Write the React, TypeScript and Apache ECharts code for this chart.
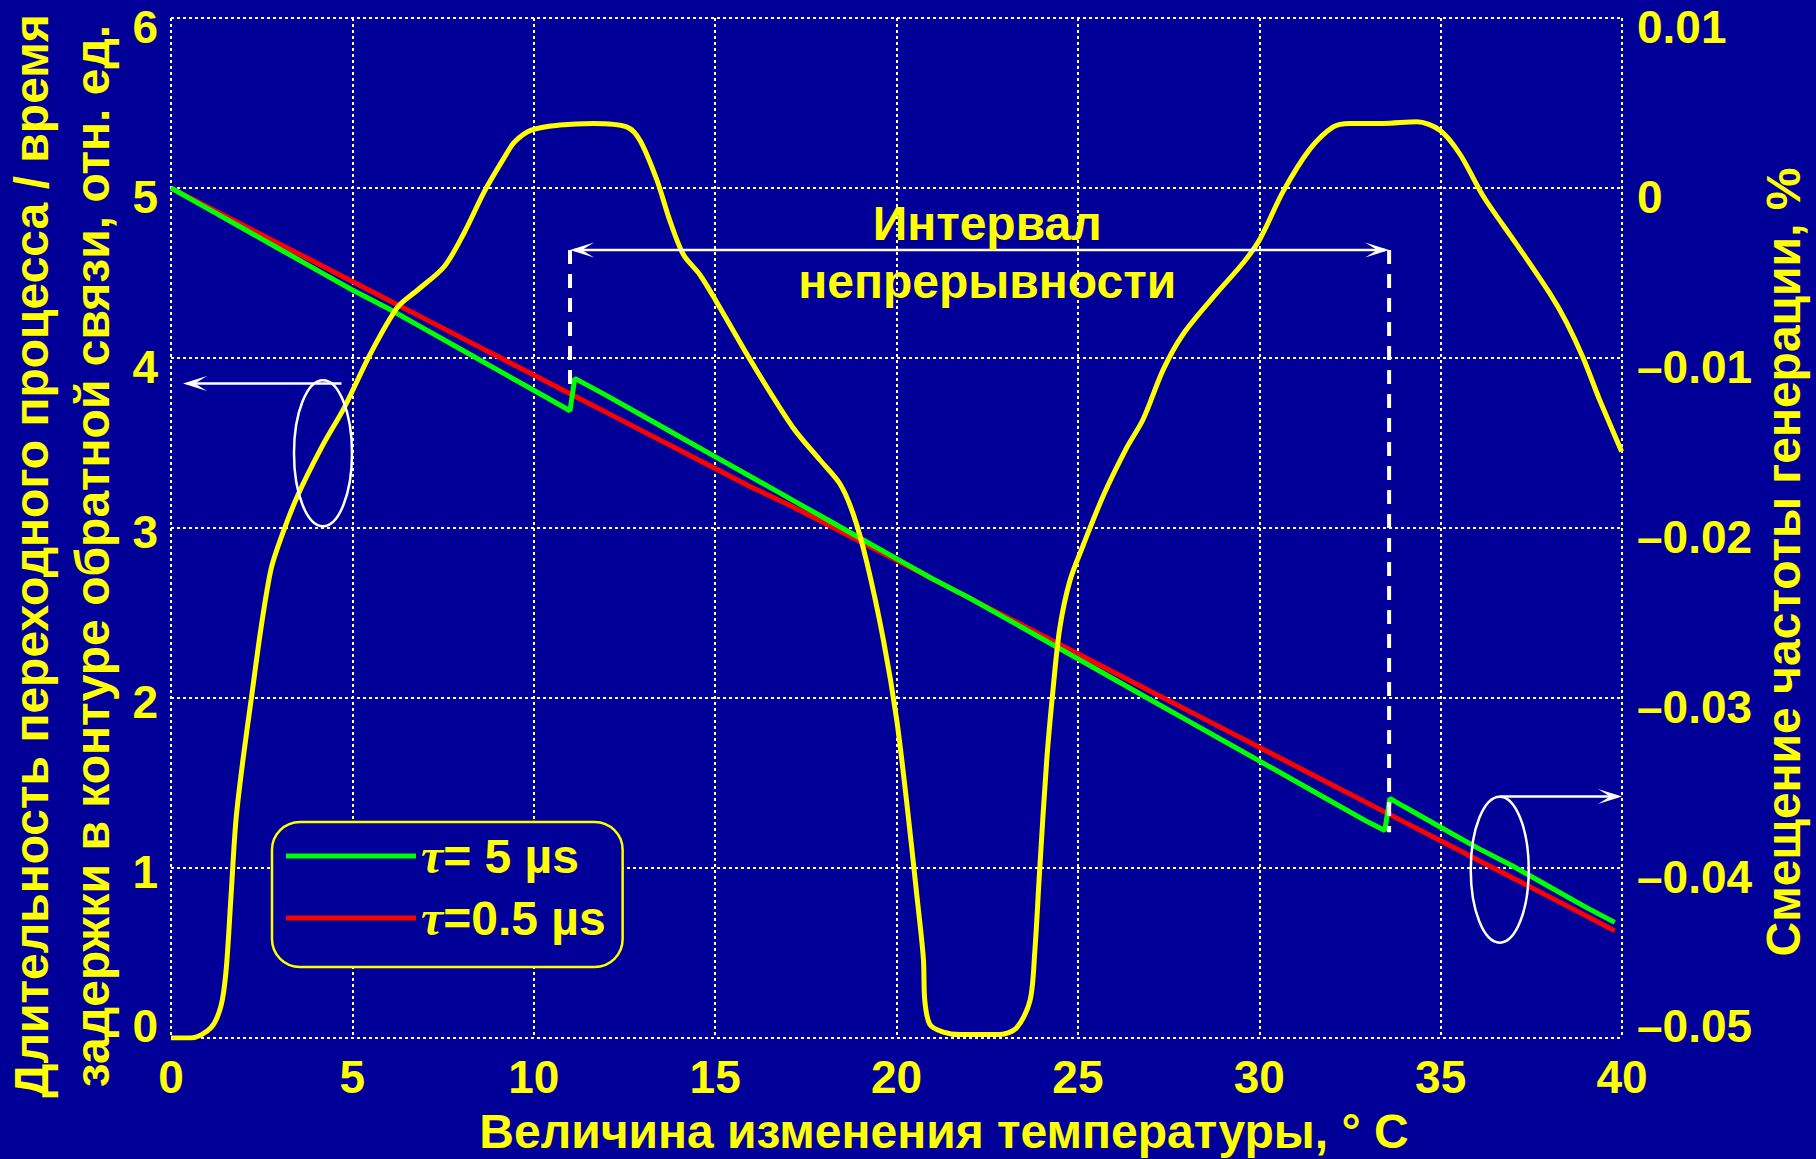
import React, { useEffect, useRef } from 'react';
import * as echarts from 'echarts';

const W = 1816;
const H = 1159;
const BG = '#000099';
const YELLOW = '#FFFF00';
const WHITE = '#FFFFFF';
const SANS = '"Liberation Sans", Arial, Helvetica, sans-serif';
const SERIF = '"Liberation Serif", "Times New Roman", serif';

// Transient duration / loop delay, tau = 0.5 us
const redTemp = [
  0, 1, 2, 3, 4, 5, 6, 7, 8, 9,
  10, 11, 12, 13, 14, 15, 16, 17, 18, 19,
  20, 21, 22, 23, 24, 25, 26, 27, 28, 29,
  30, 31, 32, 33, 34, 35, 36, 37, 38, 39, 39.8,
];
const redDuration = [
  5.0, 4.89, 4.78, 4.67, 4.56, 4.45, 4.34, 4.23, 4.12, 4.01,
  3.9, 3.79, 3.68, 3.57, 3.46, 3.35, 3.24, 3.14, 3.03, 2.92,
  2.81, 2.7, 2.59, 2.48, 2.37, 2.26, 2.15, 2.04, 1.93, 1.82,
  1.71, 1.6, 1.49, 1.38, 1.27, 1.16, 1.05, 0.94, 0.83, 0.72, 0.63,
];

// Transient duration / loop delay, tau = 5 us (with two jumps)
const greenTemp = [
  0, 1, 2, 3, 4, 5, 6, 7, 8, 9,
  10, 11, 11.13, 12, 13, 14, 15, 16, 17, 18,
  19, 20, 21, 22, 23, 24, 25, 26, 27, 28,
  29, 30, 31, 32, 33, 33.46, 33.6, 34, 35, 36,
  37, 38, 39, 39.8,
];
const greenDuration = [
  5.0, 4.88, 4.76, 4.64, 4.52, 4.4, 4.29, 4.17, 4.05, 3.93,
  3.81, 3.69, 3.88, 3.78, 3.66, 3.54, 3.42, 3.3, 3.18, 3.06,
  2.94, 2.82, 2.7, 2.59, 2.47, 2.35, 2.23, 2.11, 1.99, 1.87,
  1.75, 1.63, 1.51, 1.39, 1.27, 1.22, 1.41, 1.36, 1.24, 1.12,
  1.01, 0.89, 0.77, 0.68,
];

// Generation frequency shift, %
const yellowTemp = [
  0, 0.55, 1.1, 1.38, 1.52, 1.65, 1.79, 1.98, 2.21, 2.48,
  2.76, 3.03, 3.49, 4.14, 4.78, 5.51, 6.25, 6.8, 7.54, 8.09,
  8.64, 9.19, 9.47, 9.93, 10.72, 11.64, 12.56, 12.93, 13.39, 13.75,
  14.12, 14.58, 15.04, 16.05, 17.15, 17.89, 18.44, 18.81, 19.18, 19.64,
  20.0, 20.28, 20.55, 20.74, 20.78, 20.92, 21.29, 21.75, 22.39, 22.85,
  23.31, 23.68, 23.81, 23.95, 24.14, 24.32, 24.5, 24.78, 25.15, 25.7,
  26.34, 26.8, 27.35, 27.9, 28.82, 29.56, 30.02, 30.66, 31.4, 32.04,
  32.5, 33.42, 34.34, 34.98, 35.53, 36.18, 37.09, 38.01, 38.47, 38.93,
  39.39, 39.99,
];
const yellowShift = [
  -0.05, -0.05, -0.0494, -0.0481, -0.046, -0.0418, -0.0372, -0.0337, -0.0301, -0.0259,
  -0.0224, -0.0206, -0.0181, -0.0153, -0.0129, -0.0097, -0.007, -0.006, -0.0046, -0.0026,
  -0.0002, 0.0018, 0.0027, 0.0034, 0.0037, 0.0038, 0.0036, 0.0028, 0.0005, -0.0019,
  -0.0039, -0.0051, -0.0067, -0.0104, -0.0141, -0.016, -0.0174, -0.0192, -0.022, -0.0266,
  -0.0312, -0.0361, -0.0414, -0.0453, -0.0478, -0.0492, -0.04965, -0.0498, -0.0498, -0.0498,
  -0.0494, -0.0478, -0.045, -0.04, -0.0337, -0.0294, -0.0259, -0.0231, -0.021, -0.0181,
  -0.0153, -0.0136, -0.0107, -0.0086, -0.0062, -0.0044, -0.003, -0.0002, 0.0023, 0.0036,
  0.0038, 0.0038, 0.0039, 0.0034, 0.002, -0.0005, -0.0033, -0.0062, -0.0079, -0.01,
  -0.0125, -0.0155,
];

const seriesNames = ['τ= 5 µs', 'τ=0.5 µs', 'shift'];

const xTitle = 'Величина изменения температуры, ° C';
const leftTitle = 'Длительность переходного процесса / время\nзадержки в контуре обратной связи, отн. ед.';
const rightTitle = 'Смещение частоты генерации, %';
const intervalTitle = 'Интервал\nнепрерывности';

// Annotation anchors in data units (x: temperature, y: left axis)
const continuityFrom = 11;
const continuityTo = 33.58;
const continuityLevel = 4.635;
const dropEndLeft = 3.79;
const dropEndRight = 1.21;
const intervalLabelAt = [22.5, 4.62];
const leftMarkCenter = [4.19, 3.44];
const leftMarkArrow = [4.7, 0.33, 3.85];
const rightMarkCenter = [36.63, 0.99];
const rightMarkArrow = [36.63, 40, 1.42];

const zip = (xs: number[], ys: number[]) => xs.map((x, i) => [x, ys[i]]);

function arrowHead(tipX: number, tipY: number, dir: number) {
  // dir = -1 points left, +1 points right
  const len = 24;
  const half = 7.5;
  const notch = 12;
  return {
    type: 'polygon',
    shape: {
      points: [
        [tipX, tipY],
        [tipX - dir * len, tipY - half],
        [tipX - dir * notch, tipY],
        [tipX - dir * len, tipY + half],
      ],
    },
    style: { fill: WHITE },
    z: 20,
  };
}

// Tick label tokens: a spacer sets the line box, the number sits at its top or bottom
const TICK_SIZE = 46;
const tickRich = {
  sp: { fontSize: 1, lineHeight: 64 },
  sm: { fontSize: 1, lineHeight: 54 },
  sb: { fontSize: 1, lineHeight: 70 },
  dn: { color: YELLOW, fontFamily: SANS, fontWeight: 'bold', fontSize: TICK_SIZE, lineHeight: TICK_SIZE, verticalAlign: 'bottom' },
  up: { color: YELLOW, fontFamily: SANS, fontWeight: 'bold', fontSize: TICK_SIZE, lineHeight: TICK_SIZE, verticalAlign: 'top' },
};

function leftTick(v: number) {
  const s = String(Math.round(v));
  if (v < 0.5) return `{sb| }{up|${s}}`;
  if (v < 3.5) return `{sm| }{dn|${s}}`;
  return `{sp| }{dn|${s}}`;
}

function rightTick(v: number) {
  const r = Math.round(v * 100) / 100;
  const s = r === 0 ? '0' : r < 0 ? '–' + Math.abs(r).toFixed(2) : r.toFixed(2);
  if (r <= -0.045) return `{up|${s}}{sb| }`;
  return `{dn|${s}}{sp| }`;
}

export default function App() {
  const ref = useRef<HTMLDivElement>(null);

  useEffect(() => {
    document.body.style.margin = '0';
    document.body.style.background = BG;
    const chart = echarts.init(ref.current!, null, { renderer: 'svg', width: W, height: H });

    const tickFont = { color: YELLOW, fontFamily: SANS, fontWeight: 'bold', fontSize: TICK_SIZE };
    const dotted = { color: WHITE, width: 2, type: [3, 3] };

    chart.setOption({
      animation: false,
      backgroundColor: BG,
      grid: { left: 171, right: 194, top: 18, bottom: 121, containLabel: false, outerBoundsMode: 'none' },
      xAxis: {
        type: 'value',
        min: 0,
        max: 40,
        interval: 5,
        axisLine: { show: false },
        axisTick: { show: false },
        axisLabel: { ...tickFont, margin: 16 },
        splitLine: { show: true, showMinLine: true, showMaxLine: true, lineStyle: dotted },
      },
      yAxis: [
        {
          type: 'value',
          min: 0,
          max: 6,
          interval: 1,
          position: 'left',
          axisLine: { show: false },
          axisTick: { show: false },
          axisLabel: { ...tickFont, margin: 13, rich: tickRich, formatter: leftTick },
          splitLine: { show: true, showMinLine: true, showMaxLine: true, lineStyle: dotted },
        },
        {
          type: 'value',
          min: -0.05,
          max: 0.01,
          interval: 0.01,
          position: 'right',
          axisLine: { show: false },
          axisTick: { show: false },
          splitLine: { show: false },
          axisLabel: { ...tickFont, margin: 15, rich: tickRich, formatter: rightTick },
        },
      ],
      legend: {
        data: [seriesNames[0], seriesNames[1]],
        orient: 'vertical',
        left: 272,
        top: 822,
        selectedMode: false,
        padding: [9, 17, 24, 14],
        itemWidth: 130,
        itemHeight: 5,
        itemGap: 12,
        icon: 'rect',
        backgroundColor: BG,
        borderColor: YELLOW,
        borderWidth: 2.5,
        borderRadius: 28,
        textStyle: {
          color: YELLOW,
          fontFamily: SANS,
          fontWeight: 'bold',
          fontSize: 48,
          lineHeight: 48,
          rich: {
            tau: { fontFamily: SERIF, fontStyle: 'italic', fontWeight: 'bold', fontSize: 50, color: YELLOW, lineHeight: 48 },
            v: { fontFamily: SANS, fontWeight: 'bold', fontSize: 48, color: YELLOW, lineHeight: 48 },
          },
        },
        formatter: (name: string) => `{tau|τ}{v|${name.slice(1)}}`,
      },
      series: [
        {
          name: seriesNames[1],
          type: 'line',
          data: zip(redTemp, redDuration),
          showSymbol: false,
          lineStyle: { color: '#FF0000', width: 5 },
          itemStyle: { color: '#FF0000' },
          z: 3,
        },
        {
          name: seriesNames[0],
          type: 'line',
          data: zip(greenTemp, greenDuration),
          showSymbol: false,
          lineStyle: { color: '#00FF00', width: 5 },
          itemStyle: { color: '#00FF00' },
          z: 4,
        },
        {
          name: seriesNames[2],
          type: 'line',
          yAxisIndex: 1,
          data: zip(yellowTemp, yellowShift),
          showSymbol: false,
          smooth: 0.3,
          lineStyle: { color: YELLOW, width: 5 },
          itemStyle: { color: YELLOW },
          z: 5,
        },
      ],
    });

    const px = (x: number, y: number) =>
      chart.convertToPixel({ xAxisIndex: 0, yAxisIndex: 0 }, [x, y]) as number[];

    const [ax1, ay] = px(continuityFrom, continuityLevel);
    const [ax2] = px(continuityTo, continuityLevel);
    const [, dl] = px(continuityFrom, dropEndLeft);
    const [, dr] = px(continuityTo, dropEndRight);
    const [tx, ty] = px(intervalLabelAt[0], intervalLabelAt[1]);
    const [lcx, lcy] = px(leftMarkCenter[0], leftMarkCenter[1]);
    const [la1, lay] = px(leftMarkArrow[0], leftMarkArrow[2]);
    const [la2] = px(leftMarkArrow[1], leftMarkArrow[2]);
    const [rcx, rcy] = px(rightMarkCenter[0], rightMarkCenter[1]);
    const [ra1, ray] = px(rightMarkArrow[0], rightMarkArrow[2]);
    const [ra2] = px(rightMarkArrow[1], rightMarkArrow[2]);

    const dash = { stroke: WHITE, lineWidth: 4, lineDash: [14, 10] };
    const thin = { stroke: WHITE, lineWidth: 2.5 };
    const titleFont = { fill: YELLOW, fontFamily: SANS, fontWeight: 'bold', fontSize: 48 };

    chart.setOption({
      graphic: [
        { type: 'line', shape: { x1: ax1, y1: ay, x2: ax1, y2: dl }, style: dash, z: 20 },
        { type: 'line', shape: { x1: ax2, y1: ay, x2: ax2, y2: dr }, style: dash, z: 20 },
        { type: 'line', shape: { x1: ax1 + 4, y1: ay, x2: ax2 - 4, y2: ay }, style: thin, z: 20 },
        arrowHead(ax1, ay, -1),
        arrowHead(ax2, ay, 1),
        {
          type: 'ellipse',
          shape: { cx: lcx, cy: lcy, rx: 29, ry: 73 },
          style: { fill: 'none', stroke: WHITE, lineWidth: 2.5 },
          z: 20,
        },
        { type: 'line', shape: { x1: la1, y1: lay, x2: la2 + 4, y2: lay }, style: thin, z: 20 },
        arrowHead(la2, lay, -1),
        {
          type: 'ellipse',
          shape: { cx: rcx, cy: rcy, rx: 29, ry: 73 },
          style: { fill: 'none', stroke: WHITE, lineWidth: 2.5 },
          z: 20,
        },
        { type: 'line', shape: { x1: ra1, y1: ray, x2: ra2 - 4, y2: ray }, style: thin, z: 20 },
        arrowHead(ra2, ray, 1),
        {
          type: 'text',
          x: tx,
          y: ty,
          z: 20,
          style: { ...titleFont, text: intervalTitle, lineHeight: 58, align: 'center', verticalAlign: 'middle', textAlign: 'center', textVerticalAlign: 'middle' },
        },
        {
          type: 'text',
          x: 944,
          y: 1131,
          z: 20,
          style: { ...titleFont, text: xTitle, align: 'center', verticalAlign: 'middle', textAlign: 'center', textVerticalAlign: 'middle' },
        },
        {
          type: 'text',
          x: 62,
          y: 556,
          rotation: Math.PI / 2,
          z: 20,
          style: { ...titleFont, text: leftTitle, lineHeight: 61, align: 'center', verticalAlign: 'middle', textAlign: 'center', textVerticalAlign: 'middle' },
        },
        {
          type: 'text',
          x: 1783,
          y: 562,
          rotation: Math.PI / 2,
          z: 20,
          style: { ...titleFont, text: rightTitle, align: 'center', verticalAlign: 'middle', textAlign: 'center', textVerticalAlign: 'middle' },
        },
      ],
    });

    return () => chart.dispose();
  }, []);

  return <div ref={ref} style={{ position: 'absolute', left: 0, top: 0, width: W, height: H }} />;
}
